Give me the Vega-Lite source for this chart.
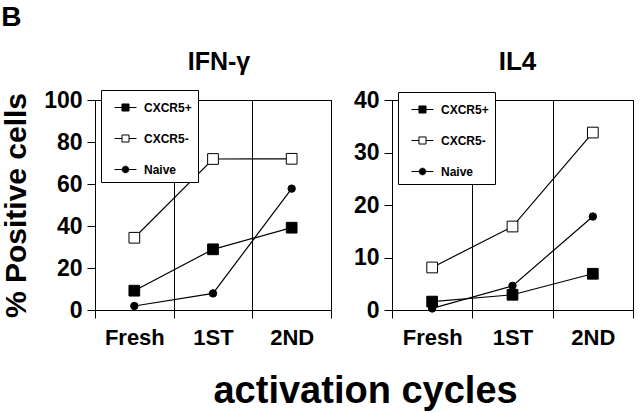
{
  "$schema": "https://vega.github.io/schema/vega-lite/v6.json",
  "padding": {"left": 1, "top": 3, "right": 5, "bottom": 4},
  "background": "white",
  "title": {"text": "B", "anchor": "start", "frame": "bounds", "fontSize": 28, "fontWeight": "bold", "color": "black", "offset": 17},
  "datasets": {
    "ifn": [
      {"series": "CXCR5+", "cycle": "Fresh", "value": 9.2},
      {"series": "CXCR5+", "cycle": "1ST", "value": 28.9},
      {"series": "CXCR5+", "cycle": "2ND", "value": 39.2},
      {"series": "CXCR5-", "cycle": "Fresh", "value": 34.4},
      {"series": "CXCR5-", "cycle": "1ST", "value": 71.9},
      {"series": "CXCR5-", "cycle": "2ND", "value": 72},
      {"series": "Naive", "cycle": "Fresh", "value": 1.9},
      {"series": "Naive", "cycle": "1ST", "value": 7.9},
      {"series": "Naive", "cycle": "2ND", "value": 57.8}
    ],
    "il4": [
      {"series": "CXCR5+", "cycle": "Fresh", "value": 1.6},
      {"series": "CXCR5+", "cycle": "1ST", "value": 2.9},
      {"series": "CXCR5+", "cycle": "2ND", "value": 6.9},
      {"series": "CXCR5-", "cycle": "Fresh", "value": 8.1},
      {"series": "CXCR5-", "cycle": "1ST", "value": 15.9},
      {"series": "CXCR5-", "cycle": "2ND", "value": 33.8},
      {"series": "Naive", "cycle": "Fresh", "value": 0.3},
      {"series": "Naive", "cycle": "1ST", "value": 4.6},
      {"series": "Naive", "cycle": "2ND", "value": 17.8}
    ]
  },
  "vconcat": [
    {
      "title": {"text": "activation cycles", "orient": "bottom", "anchor": "middle", "frame": "bounds", "dx": 48, "fontSize": 38, "fontWeight": "bold", "color": "black", "offset": 24},
      "spacing": 20,
      "resolve": {"scale": {"shape": "independent", "fill": "independent"}, "legend": {"shape": "independent", "fill": "independent"}},
      "hconcat": [
        {
          "width": 236,
          "height": 210,
          "title": {"text": "IFN-γ", "fontSize": 25, "fontWeight": "bold", "color": "black", "frame": "group", "anchor": "middle", "dx": 6, "offset": 14},
          "data": {"name": "ifn"},
          "encoding": {
            "x": {"field": "cycle", "type": "nominal", "sort": ["Fresh", "1ST", "2ND"], "scale": {"paddingInner": 0, "paddingOuter": 0},
              "axis": {"title": null, "tickBand": "extent", "grid": true, "gridColor": "black", "gridOpacity": 1, "gridWidth": 1, "domainColor": "black", "tickColor": "black", "tickSize": 8, "labelFontSize": 22, "labelFontWeight": "bold", "labelColor": "black", "labelPadding": 9, "labelAngle": 0}},
            "y": {"field": "value", "type": "quantitative", "scale": {"domain": [0, 100]},
              "axis": {"values": [0, 20, 40, 60, 80, 100], "grid": false, "title": "% Positive cells", "titleFontSize": 30, "titleFontWeight": "bold", "titleColor": "black", "titlePadding": 12, "domainColor": "black", "tickColor": "black", "tickSize": 8, "labelFontSize": 23, "labelFontWeight": "bold", "labelColor": "black", "labelPadding": 5}}
          },
          "layer": [
            {"mark": {"type": "line", "color": "black", "strokeWidth": 1.2}, "encoding": {"detail": {"field": "series"}, "order": {"value": null}}},
            {"mark": {"type": "point", "filled": true, "opacity": 1, "stroke": "black", "strokeWidth": 1},
              "encoding": {
                "shape": {"condition": {"test": "datum.series === 'Naive'", "value": "circle"}, "value": "square"},
                "fill": {"condition": {"test": "datum.series === 'CXCR5-'", "value": "white"}, "value": "black"},
                "size": {"condition": {"test": "datum.series === 'Naive'", "value": 55}, "value": 115}
              }},
            {"transform": [{"filter": "false"}],
              "mark": {"type": "point", "filled": true, "opacity": 1},
              "encoding": {
                "shape": {"field": "series", "type": "nominal",
                  "scale": {"domain": ["CXCR5+", "CXCR5-", "Naive"], "range": ["M-1,0H-0.32M0.32,0H1M-0.32,-0.32H0.32V0.32H-0.32Z", "M-1,0H-0.32M0.32,0H1M-0.32,-0.32H0.32V0.32H-0.32Z", "M-1,0H-0.3M0.3,0H1M-0.3,0A0.3,0.3,0,1,1,0.3,0A0.3,0.3,0,1,1,-0.3,0Z"]},
                  "legend": {"title": null, "orient": "none", "legendX": 6, "legendY": -10, "fillColor": "white", "strokeColor": "black", "padding": 6, "symbolSize": 484, "rowPadding": 13, "symbolStrokeColor": "black", "symbolStrokeWidth": 1, "symbolOpacity": 1, "symbolOffset": 7, "labelFontSize": 12, "labelFontWeight": "bold", "labelColor": "black", "labelOffset": 7,
                    "encode": {"symbols": {"update": {"stroke": {"value": "black"}, "strokeWidth": {"value": 1}, "opacity": {"value": 1}}}}}},
                "fill": {"field": "series", "type": "nominal",
                  "scale": {"domain": ["CXCR5+", "CXCR5-", "Naive"], "range": ["black", "white", "black"]},
                  "legend": {"title": null, "orient": "none", "legendX": 6, "legendY": -10, "fillColor": "white", "strokeColor": "black", "padding": 6, "symbolSize": 484, "rowPadding": 13, "symbolStrokeColor": "black", "symbolStrokeWidth": 1, "symbolOpacity": 1, "symbolOffset": 7, "labelFontSize": 12, "labelFontWeight": "bold", "labelColor": "black", "labelOffset": 7,
                    "encode": {"symbols": {"update": {"stroke": {"value": "black"}, "strokeWidth": {"value": 1}, "opacity": {"value": 1}}}}}}
              }}
          ]
        },
        {
          "width": 241,
          "height": 210,
          "title": {"text": "IL4", "fontSize": 26, "fontWeight": "bold", "color": "black", "frame": "group", "anchor": "middle", "dx": 5, "offset": 14},
          "data": {"name": "il4"},
          "encoding": {
            "x": {"field": "cycle", "type": "nominal", "sort": ["Fresh", "1ST", "2ND"], "scale": {"paddingInner": 0, "paddingOuter": 0},
              "axis": {"title": null, "tickBand": "extent", "grid": true, "gridColor": "black", "gridOpacity": 1, "gridWidth": 1, "domainColor": "black", "tickColor": "black", "tickSize": 8, "labelFontSize": 22, "labelFontWeight": "bold", "labelColor": "black", "labelPadding": 9, "labelAngle": 0}},
            "y": {"field": "value", "type": "quantitative", "scale": {"domain": [0, 40]},
              "axis": {"values": [0, 10, 20, 30, 40], "grid": false, "title": null, "domainColor": "black", "tickColor": "black", "tickSize": 8, "labelFontSize": 23, "labelFontWeight": "bold", "labelColor": "black", "labelPadding": 5}}
          },
          "layer": [
            {"mark": {"type": "line", "color": "black", "strokeWidth": 1.2}, "encoding": {"detail": {"field": "series"}, "order": {"value": null}}},
            {"mark": {"type": "point", "filled": true, "opacity": 1, "stroke": "black", "strokeWidth": 1},
              "encoding": {
                "shape": {"condition": {"test": "datum.series === 'Naive'", "value": "circle"}, "value": "square"},
                "fill": {"condition": {"test": "datum.series === 'CXCR5-'", "value": "white"}, "value": "black"},
                "size": {"condition": {"test": "datum.series === 'Naive'", "value": 55}, "value": 115}
              }},
            {"transform": [{"filter": "false"}],
              "mark": {"type": "point", "filled": true, "opacity": 1},
              "encoding": {
                "shape": {"field": "series", "type": "nominal",
                  "scale": {"domain": ["CXCR5+", "CXCR5-", "Naive"], "range": ["M-1,0H-0.32M0.32,0H1M-0.32,-0.32H0.32V0.32H-0.32Z", "M-1,0H-0.32M0.32,0H1M-0.32,-0.32H0.32V0.32H-0.32Z", "M-1,0H-0.3M0.3,0H1M-0.3,0A0.3,0.3,0,1,1,0.3,0A0.3,0.3,0,1,1,-0.3,0Z"]},
                  "legend": {"title": null, "orient": "none", "legendX": 6, "legendY": -8, "fillColor": "white", "strokeColor": "black", "padding": 6, "symbolSize": 484, "rowPadding": 13, "symbolStrokeColor": "black", "symbolStrokeWidth": 1, "symbolOpacity": 1, "symbolOffset": 7, "labelFontSize": 12, "labelFontWeight": "bold", "labelColor": "black", "labelOffset": 7,
                    "encode": {"symbols": {"update": {"stroke": {"value": "black"}, "strokeWidth": {"value": 1}, "opacity": {"value": 1}}}}}},
                "fill": {"field": "series", "type": "nominal",
                  "scale": {"domain": ["CXCR5+", "CXCR5-", "Naive"], "range": ["black", "white", "black"]},
                  "legend": {"title": null, "orient": "none", "legendX": 6, "legendY": -8, "fillColor": "white", "strokeColor": "black", "padding": 6, "symbolSize": 484, "rowPadding": 13, "symbolStrokeColor": "black", "symbolStrokeWidth": 1, "symbolOpacity": 1, "symbolOffset": 7, "labelFontSize": 12, "labelFontWeight": "bold", "labelColor": "black", "labelOffset": 7,
                    "encode": {"symbols": {"update": {"stroke": {"value": "black"}, "strokeWidth": {"value": 1}, "opacity": {"value": 1}}}}}}
              }}
          ]
        }
      ]
    }
  ],
  "config": {
    "font": "Liberation Sans",
    "view": {"stroke": "black", "strokeWidth": 1},
    "axis": {"domainWidth": 1, "tickWidth": 1}
  }
}
